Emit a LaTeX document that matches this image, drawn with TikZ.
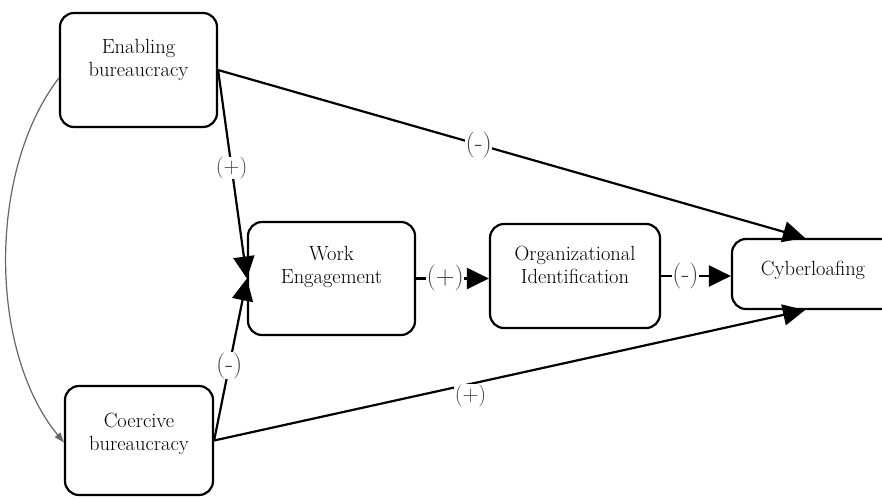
\documentclass[tikz,border=0pt]{standalone}
\usetikzlibrary{arrows.meta, positioning}

\begin{document}
\begin{tikzpicture}[x=1pt, y=-1pt,
    >={Triangle[length=22pt,width=21pt]},
    box/.style={draw, rounded corners=14pt, line width=2.2pt},
    txt/.style={align=center, inner sep=0pt, font=\fontsize{20.5}{23}\selectfont},
    sign/.style={fill=white, inner sep=0.5pt, text=black!75, font=\fontsize{22}{22}\selectfont},
    bigsign/.style={sign, font=\fontsize{26}{26}\selectfont},
    link/.style={->, line width=2.2pt}]
    \useasboundingbox (0,0) rectangle (882,498);
    % boxes
    \node (enab) [box, minimum width=157pt, minimum height=114pt] at (138.5, 70) {};
    \node (coer) [box, minimum width=148pt, minimum height=109pt] at (139, 440.5) {};
    \node (work) [box, minimum width=167pt, minimum height=113pt] at (331.5, 278.5) {};
    \node (org) [box, minimum width=170pt, minimum height=104pt] at (575, 276) {};
    \node (cyber) [box, minimum width=190pt, minimum height=70pt] at (827, 274) {};
    % box texts
    \node (enabtxt) [txt, below=27pt of enab.north] {Enabling\\bureaucracy};
    \node (coertxt) [txt, below=28pt of coer.north] {Coercive\\bureaucracy};
    \node (worktxt) [txt, below=25pt of work.north] {Work\\Engagement};
    \node (orgtxt) [txt, below=23pt of org.north] {Organizational\\Identification};
    \node (cybertxt) [txt, below=23pt of cyber.north, xshift=-14pt] {Cyberloafing};
    % links
    \draw [black!60, line width=1.2pt, -{Triangle[length=10pt,width=7pt]}]
      ([yshift=-8pt]enab.west) .. controls (-12, 170) and (-12, 350) .. ([yshift=-2pt]coer.west);
    \draw [link] (enab.east) -- (work.west) node[sign, pos=.47] {(+)};
    \draw [link] (coer.east) -- (work.west) node[bigsign, pos=.46] {(-)};
    \draw [link] (enab.east) -- ([xshift=-22pt]cyber.north) node[bigsign, pos=.444] {(-)};
    \draw [link] (coer.east) -- ([xshift=-22pt]cyber.south) node[sign, pos=.434, yshift=-12pt] {(+)};
    \draw [link] (work.east) -- (work.east -| org.west) node[bigsign, pos=.4] {(+)};
    \draw [link] (org.east) -- (org.east -| cyber.west) node[bigsign, pos=.35] {(-)};
\end{tikzpicture}
\end{document}
